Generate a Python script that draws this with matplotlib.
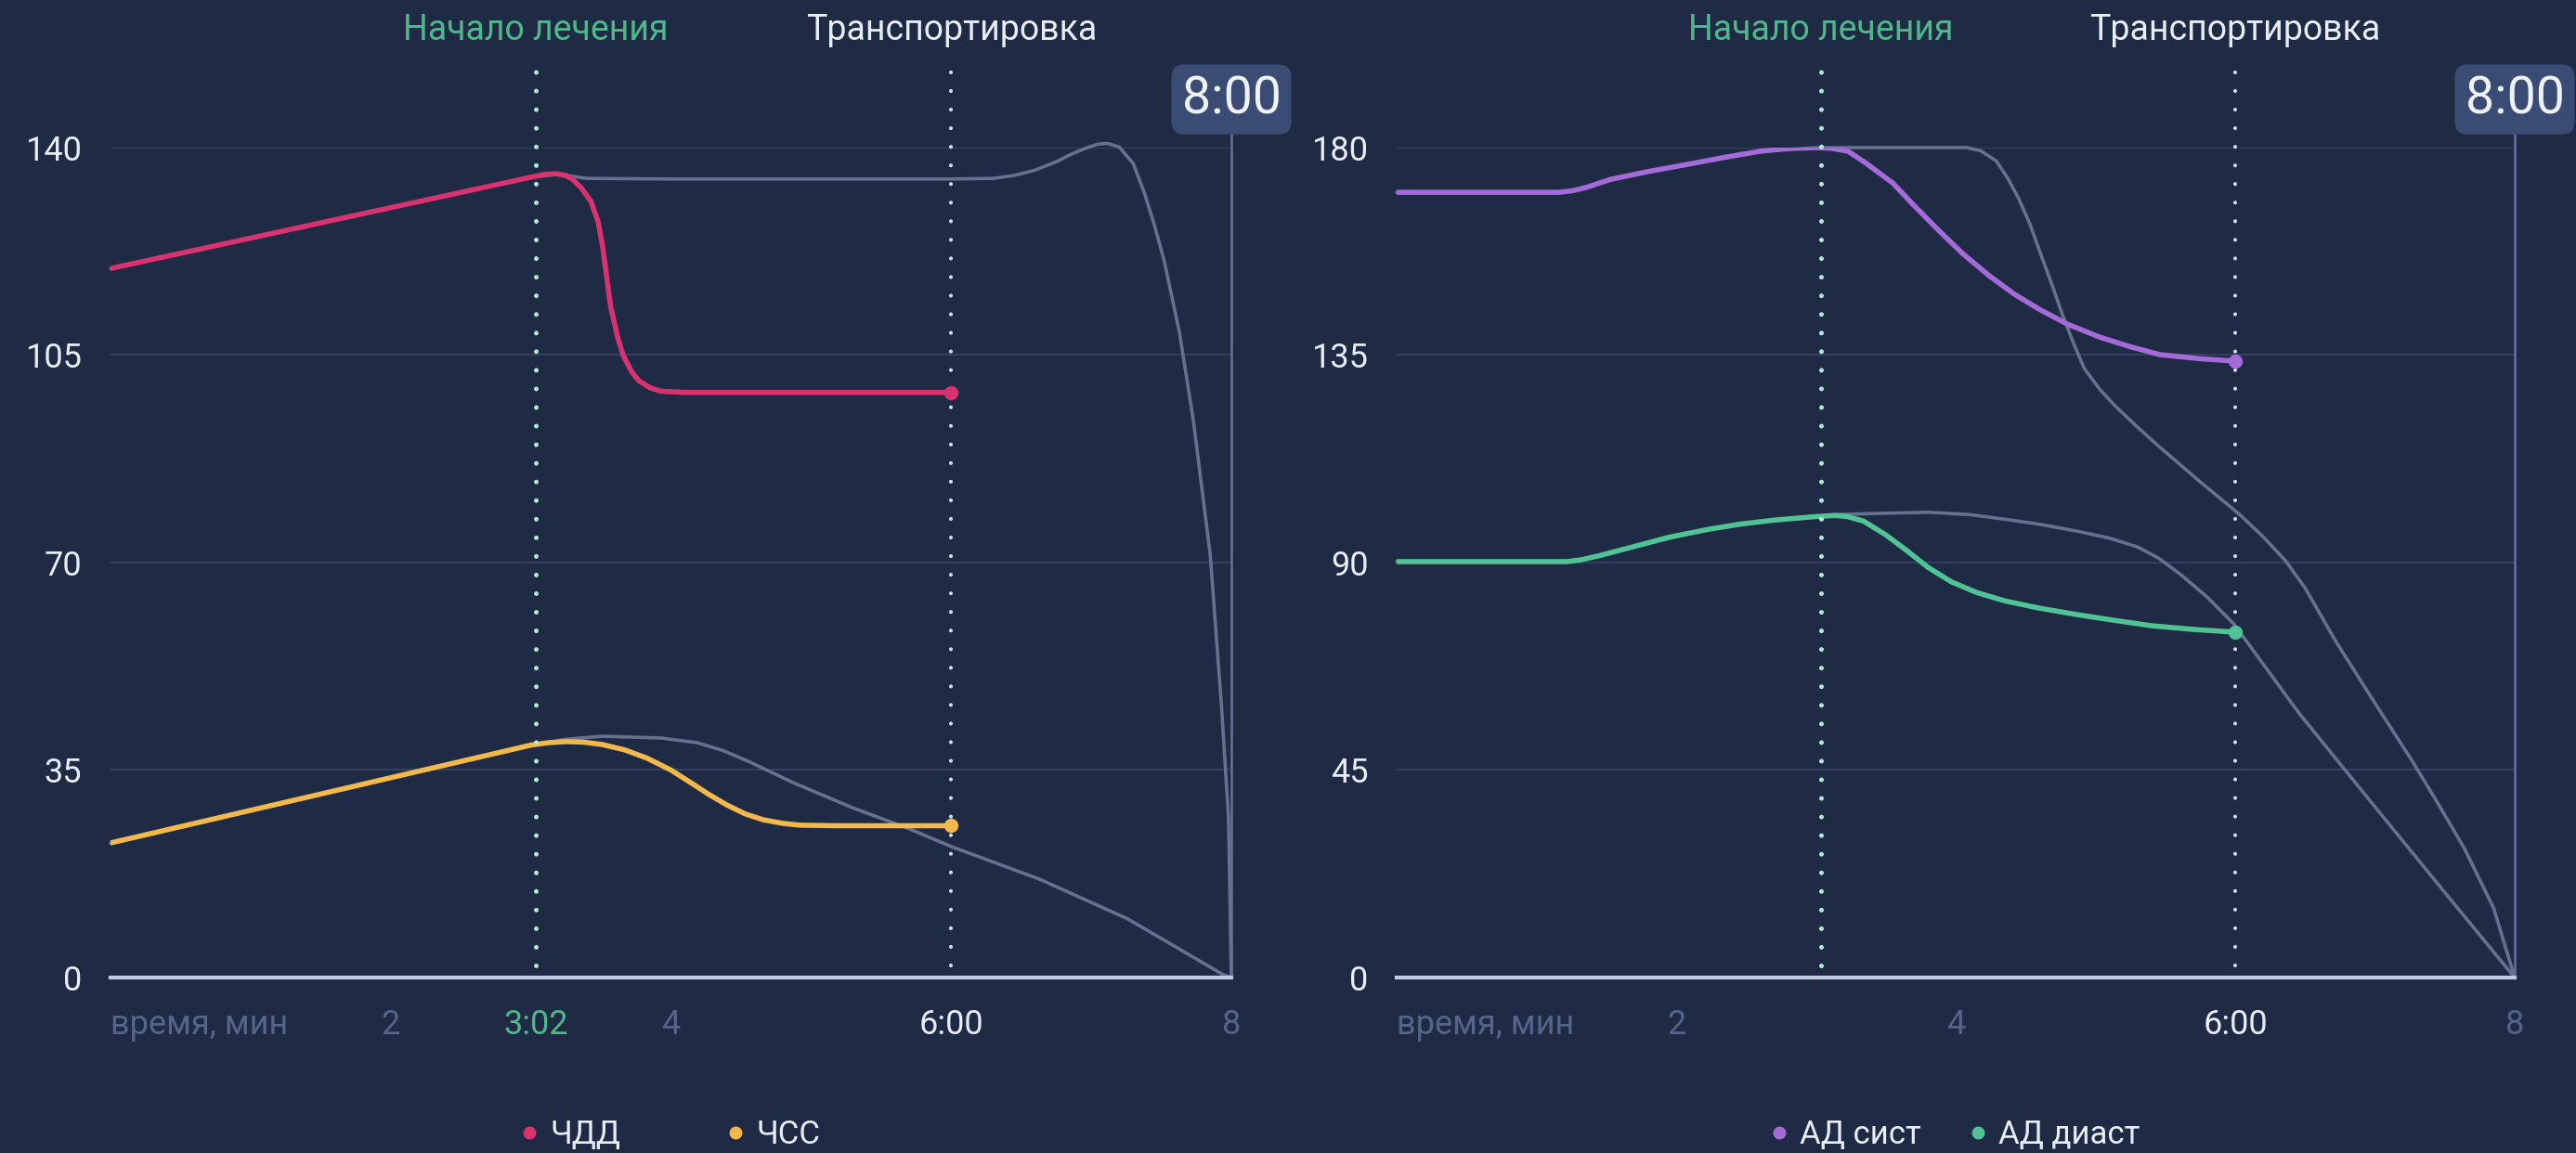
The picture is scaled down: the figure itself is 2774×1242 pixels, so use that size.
import matplotlib
matplotlib.use("Agg")
import matplotlib.pyplot as plt
from matplotlib.lines import Line2D
from matplotlib.transforms import blended_transform_factory

plt.rcParams['font.family'] = ['Roboto', 'DejaVu Sans']

# ---- left panel: ЧДД / ЧСС ----
rr_x = [0, 3.0, 3.1, 3.18, 3.25, 3.3, 3.36, 3.43, 3.48, 3.51, 3.57, 3.62, 3.66, 3.72, 3.77, 3.85, 3.93, 4.1, 5.0, 6.0]
rr_y = [119.6, 135.0, 135.5, 135.6, 135.3, 134.6, 133.2, 130.9, 127.5, 123.7, 113.2, 108.0, 104.9, 102.2, 100.7, 99.5, 98.9, 98.7, 98.7, 98.7]

hr_x = [0, 3.0, 3.12, 3.25, 3.38, 3.51, 3.67, 3.83, 4.0, 4.14, 4.27, 4.40, 4.53, 4.66, 4.8, 4.92, 5.2, 6.0]
hr_y = [22.7, 39.2, 39.6, 39.8, 39.7, 39.3, 38.4, 37.0, 35.0, 32.9, 30.9, 29.1, 27.6, 26.6, 26.0, 25.7, 25.6, 25.6]

rr_base_x = [0, 3.0, 3.2, 3.4, 4.0, 5.0, 6.0, 6.3, 6.45, 6.6, 6.75, 6.85, 6.95, 7.05, 7.12, 7.2, 7.3, 7.38, 7.45, 7.52,
             7.63, 7.73, 7.85, 7.93, 7.98, 8.0]
rr_base_y = [119.6, 135.0, 135.5, 134.8, 134.7, 134.7, 134.7, 134.8, 135.3, 136.2, 137.6, 138.8, 139.8, 140.6, 140.7, 140.1,
             137.3, 132.3, 127.0, 121.0, 108.8, 93.8, 71.2, 45.7, 26.9, 0.0]

hr_base_x = [0, 3.0, 3.25, 3.51, 3.93, 4.19, 4.37, 4.55, 4.87, 5.29, 5.70, 6.0, 6.63, 7.26, 7.94, 8.0]
hr_base_y = [22.7, 39.2, 40.2, 40.7, 40.4, 39.6, 38.3, 36.5, 32.9, 28.7, 25.1, 22.1, 16.6, 9.9, 0.5, 0.0]

# ---- right panel: АД сист / АД диаст ----
sys_x = [0, 1.16, 1.25, 1.35, 1.45, 1.53, 1.8, 2.07, 2.35, 2.6, 2.8, 3.01, 3.12, 3.23, 3.35, 3.55, 3.7, 3.87, 4.05,
         4.24, 4.42, 4.6, 4.8, 5.03, 5.25, 5.46, 5.75, 6.0]
sys_y = [170.3, 170.3, 170.6, 171.3, 172.3, 173.1, 174.8, 176.3, 177.9, 179.2, 179.8, 180.0, 179.8, 179.2, 176.8, 172.3,
         167.5, 162.3, 157.0, 152.2, 148.2, 144.9, 141.7, 138.9, 136.8, 135.1, 134.2, 133.7]

dia_x = [0, 1.22, 1.32, 1.45, 1.69, 1.95, 2.23, 2.45, 2.70, 3.01, 3.13, 3.22, 3.34, 3.5, 3.65, 3.8, 3.97, 4.15, 4.35,
         4.6, 4.87, 5.15, 5.4, 5.7, 6.0]
dia_y = [90.2, 90.2, 90.6, 91.5, 93.4, 95.5, 97.2, 98.3, 99.2, 100.0, 100.2, 100.0, 99.0, 96.0, 92.6, 89.0, 85.8, 83.5,
         81.7, 80.1, 78.7, 77.4, 76.3, 75.5, 74.9]

sys_base_x = [0, 1.16, 1.25, 1.35, 1.53, 2.07, 2.6, 3.01, 3.5, 4.08, 4.18, 4.29, 4.37, 4.45, 4.53, 4.60, 4.68, 4.76,
              4.84, 4.92, 5.03, 5.14, 5.3, 5.45, 5.75, 6.04, 6.2, 6.36, 6.5, 6.72, 7.0, 7.26, 7.45, 7.64, 7.85, 8.0]
sys_base_y = [170.3, 170.3, 170.6, 171.3, 173.1, 176.3, 179.2, 180.0, 180.0, 180.0, 179.3, 177.1, 173.5, 169.0, 163.5,
              157.6, 151.0, 144.1, 137.8, 132.1, 127.6, 124.0, 119.4, 115.3, 107.5, 100.2, 95.6, 90.4, 84.5, 72.9,
              59.5, 47.3, 37.8, 28.0, 15.0, 0.0]

dia_base_x = [0, 1.22, 1.32, 1.45, 1.69, 2.23, 2.70, 3.01, 3.13, 3.5, 3.81, 4.1, 4.35, 4.6, 4.87, 5.1, 5.30, 5.45,
              5.61, 5.8, 5.99, 6.46, 6.99, 7.52, 8.0]
dia_base_y = [90.2, 90.2, 90.6, 91.5, 93.4, 97.2, 99.2, 100.0, 100.4, 100.7, 100.9, 100.4, 99.4, 98.3, 96.8, 95.3,
              93.4, 91.0, 87.4, 82.5, 76.7, 57.2, 37.4, 17.7, 0.0]

left_yticks = [0, 35, 70, 105, 140]
right_yticks = [0, 45, 90, 135, 180]
left_xticks = [0, 2, 3 + 2 / 60, 4, 6, 8]
left_xlabels = ['время, мин', '2', '3:02', '4', '6:00', '8']
right_xticks = [0, 2, 4, 6, 8]
right_xlabels = ['время, мин', '2', '4', '6:00', '8']

treat_start = 3 + 2 / 60
transport = 6.0
end_time = 8.0

BG = '#1f2a44'
GRAY = '#65718f'
DIM = '#56648a'
WHITE = '#e8ecf4'
MINT = '#4fb88a'
colors = {'ЧДД': '#d8336f', 'ЧСС': '#f2b84b', 'АД сист': '#a46bd8', 'АД диаст': '#4fc394'}

fig = plt.figure(figsize=(27.74, 12.42), dpi=100, facecolor=BG)
ax1 = fig.add_axes([0.0429, 0.1522, 0.4351, 0.7198])
ax2 = fig.add_axes([0.5422, 0.1522, 0.4340, 0.7198])


def draw_panel(ax, series, bases, yticks, xticks, xlabels):
    ax.set_facecolor(BG)
    ax.set_xlim(0, 8)
    ax.set_ylim(yticks[0], yticks[-1])
    for s in ['top', 'right', 'left']:
        ax.spines[s].set_visible(False)
    ax.spines['bottom'].set_color('#c2cbe0')
    ax.spines['bottom'].set_linewidth(3)
    ax.spines['bottom'].set_zorder(6)
    ax.set_yticks(yticks)
    ax.set_yticklabels([str(v) for v in yticks])
    ax.tick_params(axis='y', length=0, pad=22, labelsize=26, labelcolor=WHITE)
    ax.set_xticks(xticks)
    ax.set_xticklabels(xlabels)
    ax.tick_params(axis='x', length=0, pad=24, labelsize=26)
    for lab in ax.get_xticklabels():
        t = lab.get_text()
        if t == '6:00':
            lab.set_color(WHITE)
        elif t == '3:02':
            lab.set_color(MINT)
        else:
            lab.set_color(DIM)
        if t == 'время, мин':
            lab.set_horizontalalignment('left')
    ax.grid(axis='y', color='#34405e', lw=1.5)
    ax.set_axisbelow(True)

    # right edge line at 8:00
    ax.axvline(end_time, ymin=0, ymax=1.019, color='#65739a', lw=1.8, clip_on=False, zorder=2)

    # untreated course (grey)
    for bx, by in bases:
        ax.plot(bx, by, color=GRAY, lw=2.6, clip_on=False, zorder=3,
                solid_capstyle='round', solid_joinstyle='round')

    # event markers
    tr = blended_transform_factory(ax.transData, ax.transAxes)
    ax.axvline(treat_start, ymin=0.015, ymax=1.102, color='#b4ecd2', lw=3.6,
               linestyle=(0, (0.01, 4.0)), dash_capstyle='round', clip_on=False, zorder=5)
    ax.axvline(transport, ymin=0.015, ymax=1.102, color='#d4dbea', lw=3.0,
               linestyle=(0, (0.01, 4.8)), dash_capstyle='round', clip_on=False, zorder=5)
    ax.text(treat_start, 1.142, 'Начало лечения', transform=tr, ha='center', va='center',
            fontsize=27, color=MINT)
    ax.text(transport, 1.142, 'Транспортировка', transform=tr, ha='center', va='center',
            fontsize=27, color=WHITE)
    ax.text(end_time, 1.058, '8:00', transform=tr, ha='center', va='center',
            fontsize=40, color='#eef1f7', zorder=8,
            bbox=dict(boxstyle='round,pad=0.2,rounding_size=0.25', fc='#3b4c74', ec='none'))

    # measured series
    handles = []
    for name, (sx, sy) in series.items():
        c = colors[name]
        ax.plot(sx, sy, color=c, lw=4.0, zorder=4, solid_capstyle='round',
                solid_joinstyle='round')
        ax.plot(sx[-1], sy[-1], 'o', ms=10, color=c, zorder=7)
        handles.append(Line2D([], [], marker='o', ls='', ms=9, color=c, label=name))
    return handles


h1 = draw_panel(ax1, {'ЧДД': (rr_x, rr_y), 'ЧСС': (hr_x, hr_y)},
                [(rr_base_x, rr_base_y), (hr_base_x, hr_base_y)],
                left_yticks, left_xticks, left_xlabels)
h2 = draw_panel(ax2, {'АД сист': (sys_x, sys_y), 'АД диаст': (dia_x, dia_y)},
                [(sys_base_x, sys_base_y), (dia_base_x, dia_base_y)],
                right_yticks, right_xticks, right_xlabels)

ax1.legend(handles=h1, loc='center', bbox_to_anchor=(0.5, -0.19), ncol=2, frameon=False,
           fontsize=25, labelcolor=WHITE, handlelength=0.5, handletextpad=0.4,
           columnspacing=3.3)
ax2.legend(handles=h2, loc='center', bbox_to_anchor=(0.5, -0.19), ncol=2, frameon=False,
           fontsize=25, labelcolor=WHITE, handlelength=0.5, handletextpad=0.4,
           columnspacing=1.5)

fig.savefig('out.png', dpi=100, facecolor=BG)
